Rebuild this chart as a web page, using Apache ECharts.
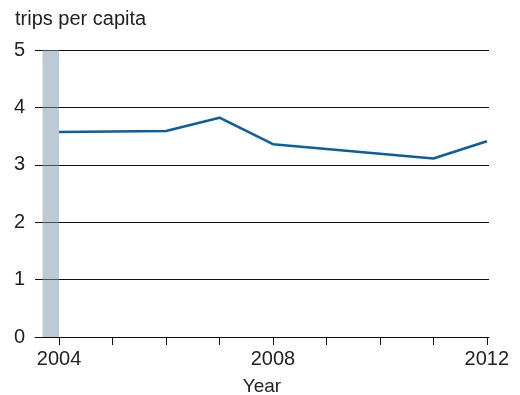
<!DOCTYPE html>
<html>
<head>
<meta charset="utf-8">
<script src="https://cdn.jsdelivr.net/npm/echarts@6/dist/echarts.min.js"></script>
<style>
  html, body { margin: 0; padding: 0; background: #fff; }
  #chart { width: 520px; height: 395px; }
</style>
</head>
<body>
<div id="chart"></div>
<script>
// Trips per capita by year
const years = [2004, 2006, 2007, 2008, 2011, 2012];
const trips = [3.57, 3.59, 3.82, 3.36, 3.11, 3.41];
const yearTicks = [2004, 2005, 2006, 2007, 2008, 2009, 2010, 2011, 2012];
const yearLabels = [2004, 2008, 2012];
const shadedPeriod = [2003.69, 2004];

const font = '"Liberation Sans", Arial, sans-serif';
const chart = echarts.init(document.getElementById('chart'), null, { renderer: 'canvas' });

chart.setOption({
  animation: false,
  textStyle: { fontFamily: font },
  title: {
    text: 'trips per capita',
    left: 10, top: 4,
    textStyle: { fontFamily: font, fontSize: 20, fontWeight: 'normal', color: '#222' }
  },
  grid: { left: 35, right: 31, top: 50, bottom: 58, containLabel: false, outerBoundsMode: 'none' },
  xAxis: {
    type: 'value',
    min: 2003.55, max: 2012.04,
    name: 'Year', nameLocation: 'middle', nameGap: 40,
    nameTextStyle: { fontFamily: font, fontSize: 19, color: '#222' },
    axisLine: { show: true, lineStyle: { color: '#111', width: 1 } },
    axisTick: { show: true, customValues: yearTicks, length: 8, lineStyle: { color: '#111', width: 1 } },
    axisLabel: {
      customValues: yearLabels, margin: 12,
      fontFamily: font, fontSize: 20, color: '#222',
      formatter: v => String(Math.round(v))
    },
    splitLine: { show: false }
  },
  yAxis: {
    type: 'value',
    min: 0, max: 5, interval: 1,
    axisLine: { show: false },
    axisTick: { show: false },
    axisLabel: { fontFamily: font, fontSize: 20, color: '#222', margin: 10, padding: [0, 0, 11, 0] },
    splitLine: { show: true, lineStyle: { color: '#111', width: 1 } }
  },
  series: [{
    type: 'line',
    data: years.map((y, i) => [y, trips[i]]),
    symbol: 'none',
    lineStyle: { color: '#0a5f9e', width: 2.5 },
    markArea: {
      silent: true,
      itemStyle: { color: 'rgba(121,149,173,0.5)' },
      data: [[{ xAxis: shadedPeriod[0], yAxis: 0 }, { xAxis: shadedPeriod[1], yAxis: 5 }]]
    }
  }]
});
</script>
</body>
</html>
